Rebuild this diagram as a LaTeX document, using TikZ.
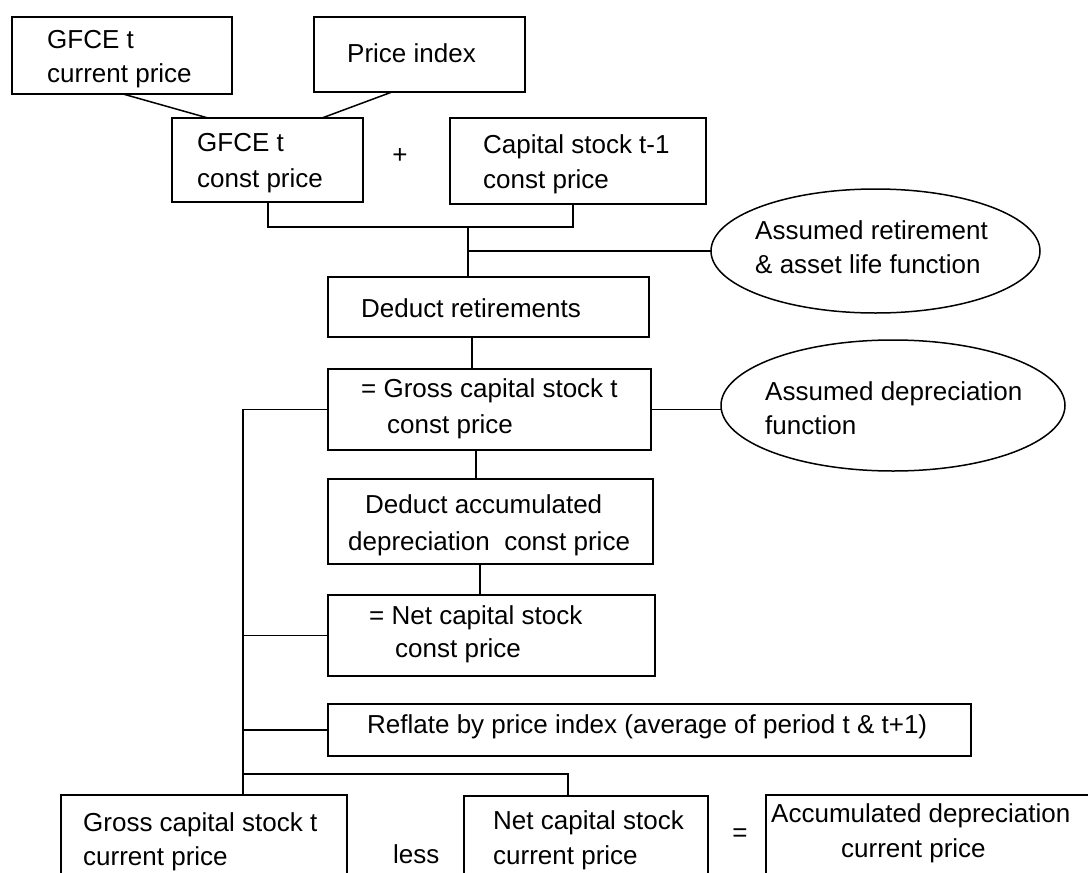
\documentclass[tikz,border=0pt]{standalone}
\usepackage{fontspec}
\setmainfont{Liberation Sans}
\usetikzlibrary{shapes.geometric}
\begin{document}
\begin{tikzpicture}[x=1pt,y=-1pt,
  box/.style={draw, line width=1.5pt, rectangle, inner sep=0pt, outer sep=0pt, anchor=north west},
  oval/.style={draw, line width=1.5pt, ellipse, inner sep=0pt, outer sep=0pt},
  txt/.style={font=\fontsize{26}{35}\selectfont, inner sep=0pt, anchor=base west},
  link/.style={line width=1.5pt}]
\fill[white] (0,0) rectangle (1088,873);
\useasboundingbox (0,0) rectangle (1088,873);

% boxes
\node[box, minimum width=220pt, minimum height=77pt] (gcur) at (12,17) {};
\node[box, minimum width=211pt, minimum height=75pt] (pidx) at (314,17) {};
\node[box, minimum width=191pt, minimum height=84pt] (gconst) at (172,118) {};
\node[box, minimum width=256pt, minimum height=86pt] (cap) at (450,118) {};
\node[box, minimum width=321pt, minimum height=60pt] (dret) at (328,277) {};
\node[box, minimum width=323pt, minimum height=81pt] (gross) at (328,369) {};
\node[box, minimum width=325pt, minimum height=85pt] (dacc) at (328,479) {};
\node[box, minimum width=327pt, minimum height=81pt] (net) at (328,595) {};
\node[box, minimum width=643pt, minimum height=52pt] (refl) at (328,704) {};
\node[box, minimum width=286pt, minimum height=110pt] (gcb) at (61,795) {};
\node[box, minimum width=244pt, minimum height=110pt] (ncb) at (464,796) {};
\node[box, minimum width=344pt, minimum height=110pt] (acb) at (766,795) {};
\node[oval, minimum width=329pt, minimum height=124pt] (ell1) at (875.5,251) {};
\node[oval, minimum width=344pt, minimum height=131pt] (ell2) at (893,405.5) {};

% texts
\node[txt] (gcur-a) at (47,48) {GFCE t};
\node[txt] (gcur-b) at (47,82) {current price};
\node[txt] (pidx-a) at (347,62) {Price index};
\node[txt] (gconst-a) at (197,151) {GFCE t};
\node[txt] (gconst-b) at (197,187) {const price};
\node[txt, anchor=center] (plus) at (400,156) {+};
\node[txt] (cap-a) at (483,153) {Capital stock t-1};
\node[txt] (cap-b) at (483,188) {const price};
\node[txt] (ell1-a) at (755,239) {Assumed retirement};
\node[txt] (ell1-b) at (755,273) {\& asset life function};
\node[txt] (dret-a) at (361,317) {Deduct retirements};
\node[txt] (gross-a) at (361,397) {= Gross capital stock t};
\node[txt] (gross-b) at (387,433) {const price};
\node[txt] (ell2-a) at (765,400) {Assumed depreciation};
\node[txt] (ell2-b) at (765,434) {function};
\node[txt] (dacc-a) at (365,513) {Deduct accumulated};
\node[txt] (dacc-b) at (348,550) {depreciation\ \ const price};
\node[txt] (net-a) at (369,624) {= Net capital stock};
\node[txt] (net-b) at (395,657) {const price};
\node[txt] (refl-a) at (367,733) {Reflate by price index (average of period t \& t+1)};
\node[txt] (gcb-a) at (83,831) {Gross capital stock t};
\node[txt] (gcb-b) at (83,865) {current price};
\node[txt] (less) at (393,863) {less};
\node[txt] (ncb-a) at (493,829) {Net capital stock};
\node[txt] (ncb-b) at (493,864) {current price};
\node[txt, anchor=center] (eq) at (740,835) {=};
\node[txt] (acb-a) at (771,822) {Accumulated depreciation};
\node[txt] (acb-b) at (841,857) {current price};

% connectors
\draw[link] ([xshift=111pt]gcur.south west) -- ([xshift=36pt]gconst.north west);
\draw[link] ([xshift=78pt]pidx.south west) -- ([xshift=150pt]gconst.north west);
\coordinate (j1) at (468,227);
\draw[link] ([xshift=96pt]gconst.south west) |- (j1) -| ([xshift=123pt]cap.south west);
\draw[link] (j1) -- (j1 |- dret.north);
\draw[link] (j1 |- ell1.west) -- (ell1.west);
\draw[link] ([xshift=144pt]dret.south west) -- ([xshift=144pt]gross.north west);
\draw[link] (gross.east) -- (gross.east -| ell2.west);
\draw[link] ([xshift=148pt]gross.south west) -- ([xshift=148pt]dacc.north west);
\draw[link] ([xshift=152pt]dacc.south west) -- ([xshift=152pt]net.north west);
\coordinate (j3) at (243,774);
\draw[link] (gross.west) -| (j3);
\draw[link] (net.west) -- (net.west -| j3);
\draw[link] (refl.west) -- (refl.west -| j3);
\draw[link] (j3) -- (j3 |- gcb.north);
\draw[link] (j3) -| ([xshift=104pt]ncb.north west);
\end{tikzpicture}
\end{document}
